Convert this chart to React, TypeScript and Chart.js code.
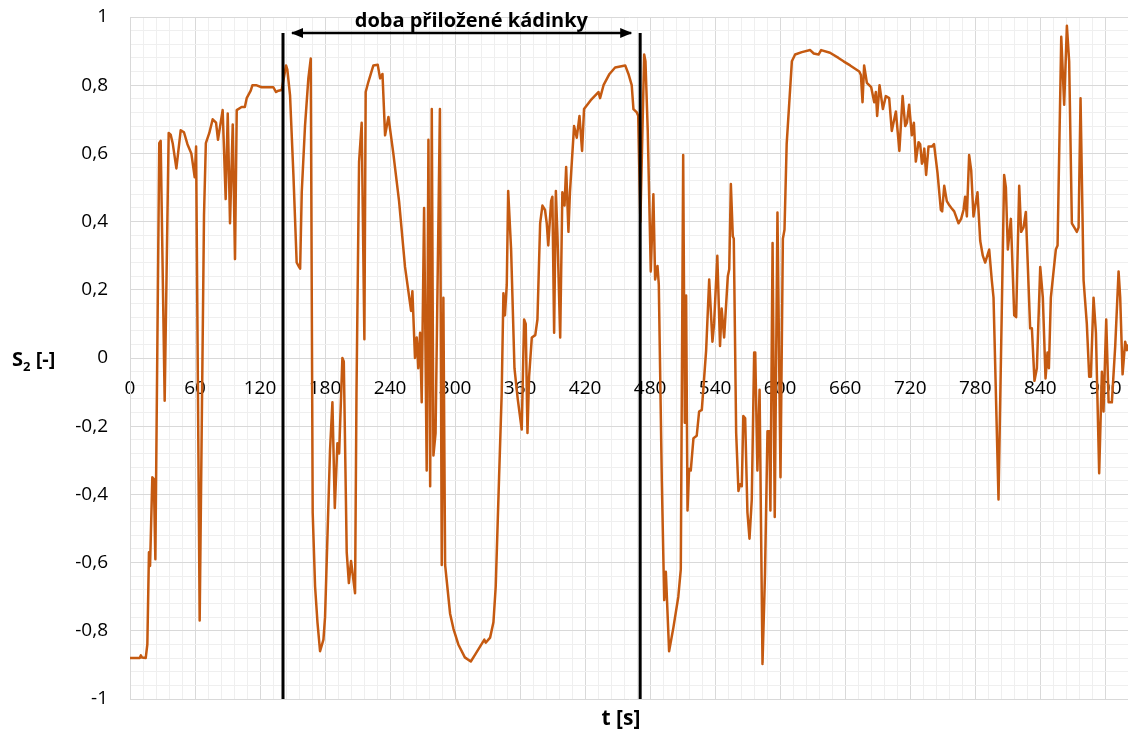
import React, { useEffect, useRef } from 'react';
import { Chart, registerables } from 'chart.js';

Chart.register(...registerables);

// time axis [s]
const times: number[] = [
  0, 5, 9, 10, 11, 14.5, 16, 17.5, 18.5, 20.6, 22, 23.4, 27, 28.3, 32, 35.7, 37.5, 39.4, 42.8, 46.8,
  49.8, 53, 56.6, 59.7, 61, 64.3, 68.3, 70, 73.2, 76.3, 79.4, 81.2, 85.5, 88.3, 90.2, 92.3, 94.8, 96.9, 98.5, 103,
  106, 107.7, 111.4, 113, 116.3, 121.5, 132.3, 134.8, 137, 140, 144, 145.2, 147.7, 150.8, 153.8, 156, 157, 158.5, 161.5, 164.6,
  166.8, 168.6, 170.8, 173, 175.4, 178.5, 180, 184.6, 186.8, 189, 191.4, 193, 196, 197.3, 200, 202, 204, 207.7, 209, 211.4,
  213.8, 216.3, 217.5, 220, 224.6, 228.6, 230.8, 233, 235.4, 238.5, 243, 248.3, 253.8, 259.4, 260.6, 263, 264.6, 266, 267.7, 269.2,
  271.4, 273.8, 275.4, 277, 278.5, 280, 282, 286, 287.7, 289.2, 290.8, 295.4, 298.5, 303, 309, 314.5, 318.5, 327, 328.3, 332.3,
  335.4, 337.5, 340.6, 343, 344.6, 346, 347.7, 349, 351.7, 354.8, 357.8, 361.5, 363.7, 365.2, 366.8, 368.3, 370.8, 374, 376, 378.5,
  380.6, 383, 384.6, 386, 388.6, 389.8, 391.4, 393, 394.5, 397, 399, 401, 402.5, 404.6, 406, 409.8, 412.3, 414.8, 417.2, 419,
  425.2, 432.3, 433.8, 437, 442.5, 447.7, 457, 460, 463, 464.6, 467.7, 469, 471, 474.5, 475.7, 477.8, 480.6, 483, 484.6, 486.8,
  488, 490.8, 493, 494.5, 497.5, 501.5, 506, 508.3, 510.5, 512, 513.2, 514.5, 516, 517.5, 520, 523, 525.2, 527.7, 531.7, 534.5,
  537.5, 539, 542, 544.5, 546, 548.3, 551.7, 553, 554.5, 556.3, 557.2, 559.4, 561.5, 563, 564.6, 566, 567.7, 569.8, 571.7, 573.8,
  576, 577, 579, 581, 583.7, 586, 588.3, 590, 591, 593, 595, 597.5, 600.3, 602.5, 604, 606, 608.3, 610.8, 613.8, 620,
  627.7, 631, 635.4, 637.8, 646, 653.8, 658.5, 664.6, 673, 674.5, 676, 677.5, 680, 684, 686.8, 688.3, 689.5, 691.7, 694.8, 697.5,
  700.6, 703, 706.8, 710, 713, 715.4, 717, 719, 721.5, 723.4, 725.2, 727.7, 729.2, 730.8, 731.7, 733, 734.7, 736.9, 740, 742,
  745.2, 748.3, 749.5, 751.4, 753.8, 756.3, 758, 760.6, 764.6, 767, 769.2, 770.7, 772.3, 774.4, 776.3, 778.4, 782.1, 784.6, 787, 789.2,
  792.9, 795.3, 796.9, 801.5, 806.7, 808.3, 810.1, 812.9, 816, 817.8, 820.6, 822.4, 824.6, 826.7, 830.7, 832.3, 834.7, 836.9, 840, 842.4,
  844.9, 846.7, 848, 849.8, 852.3, 854.4, 856, 859.4, 862.1, 864.6, 866.7, 869.2, 871.4, 873.8, 875.4, 877.2, 880, 883, 885.2, 886.7,
  889.2, 891.4, 894.4, 896.9, 898.4, 900.9, 903.1, 906.1, 909.2, 912.3, 913.8, 916, 918.4, 920, 921,
];

// S2 [-]
const values: number[] = [
  -0.88, -0.88, -0.88, -0.872, -0.878, -0.88, -0.84, -0.57, -0.61, -0.35, -0.355, -0.59, 0.63, 0.637, -0.125, 0.66, 0.655, 0.63, 0.556, 0.668,
  0.662, 0.627, 0.6, 0.53, 0.62, -0.77, 0.42, 0.63, 0.66, 0.7, 0.69, 0.64, 0.727, 0.466, 0.717, 0.395, 0.685, 0.29, 0.727, 0.736,
  0.736, 0.762, 0.784, 0.8, 0.8, 0.794, 0.794, 0.78, 0.784, 0.786, 0.858, 0.846, 0.77, 0.537, 0.28, 0.267, 0.262, 0.486, 0.68, 0.82,
  0.878, -0.454, -0.67, -0.775, -0.86, -0.826, -0.76, -0.27, -0.13, -0.44, -0.25, -0.28, 0.0, -0.01, -0.57, -0.66, -0.595, -0.69, -0.106, 0.575,
  0.69, 0.055, 0.78, 0.81, 0.858, 0.86, 0.82, 0.833, 0.653, 0.707, 0.6, 0.46, 0.267, 0.138, 0.196, 0.0, 0.06, -0.03, 0.074, -0.13,
  0.44, -0.33, 0.64, -0.376, 0.73, -0.286, -0.22, 0.73, -0.607, 0.177, -0.607, -0.75, -0.794, -0.84, -0.878, -0.89, -0.87, -0.826, -0.835, -0.82,
  -0.775, -0.67, -0.35, -0.106, 0.19, 0.125, 0.215, 0.49, 0.318, -0.03, -0.12, -0.21, 0.113, 0.1, -0.22, -0.055, 0.06, 0.067, 0.113, 0.395,
  0.447, 0.434, 0.395, 0.33, 0.46, 0.473, 0.074, 0.49, 0.357, 0.06, 0.486, 0.447, 0.56, 0.37, 0.486, 0.68, 0.646, 0.71, 0.607, 0.73,
  0.756, 0.78, 0.762, 0.8, 0.833, 0.852, 0.858, 0.833, 0.8, 0.73, 0.72, 0.71, 0.4, 0.89, 0.87, 0.666, 0.254, 0.48, 0.23, 0.27,
  0.215, -0.363, -0.71, -0.627, -0.86, -0.79, -0.7, -0.62, 0.595, -0.19, 0.183, -0.447, -0.325, -0.33, -0.235, -0.228, -0.157, -0.152, 0.023, 0.23,
  0.048, 0.1, 0.3, 0.035, 0.145, 0.06, 0.24, 0.26, 0.51, 0.357, 0.35, -0.22, -0.39, -0.37, -0.376, -0.17, -0.177, -0.453, -0.53, -0.415,
  0.016, 0.016, -0.33, -0.093, -0.897, -0.633, -0.215, -0.215, -0.447, 0.337, -0.466, 0.427, -0.35, 0.35, 0.376, 0.627, 0.743, 0.87, 0.89, 0.897,
  0.903, 0.893, 0.89, 0.903, 0.895, 0.88, 0.87, 0.858, 0.84, 0.83, 0.75, 0.858, 0.807, 0.794, 0.75, 0.78, 0.71, 0.8, 0.73, 0.768,
  0.762, 0.666, 0.723, 0.607, 0.768, 0.68, 0.69, 0.743, 0.653, 0.69, 0.576, 0.633, 0.627, 0.57, 0.576, 0.614, 0.537, 0.62, 0.62, 0.627,
  0.543, 0.434, 0.43, 0.505, 0.46, 0.447, 0.44, 0.43, 0.395, 0.408, 0.434, 0.473, 0.415, 0.595, 0.55, 0.415, 0.486, 0.344, 0.3, 0.28,
  0.318, 0.228, 0.177, -0.415, 0.537, 0.5, 0.318, 0.408, 0.125, 0.12, 0.505, 0.37, 0.383, 0.428, 0.087, 0.087, -0.067, -0.03, 0.267, 0.177,
  -0.06, 0.016, -0.03, 0.177, 0.254, 0.318, 0.33, 0.942, 0.743, 0.974, 0.87, 0.395, 0.383, 0.37, 0.383, 0.762, 0.228, 0.1, -0.055, -0.055,
  0.177, 0.074, -0.338, -0.04, -0.157, 0.113, -0.13, -0.13, 0.035, 0.254, 0.177, -0.048, 0.048, 0.023, 0.04,
];

// axis definitions
const xMin = 0;
const xMax = 921;
const xGridStep = 12;
const xLabelStep = 60;
const yMin = -1;
const yMax = 1;
const yGridStep = 0.04;
const yLabelStep = 0.2;

// beaker interval markers
const beakerStart = 141.2;
const beakerEnd = 470.8;
const markerTop = 0.953;
const arrowFrom = 149.5;
const arrowTo = 462.5;
const annotationText = 'doba přiložené kádinky';
const annotationT = 315;
const annotationV = 0.971;

const xTitle = 't [s]';
const yTitleMain = 'S';
const yTitleSub = '2';
const yTitleRest = ' [-]';

const LINE_COLOR = '#C55A11';
const MAJOR_GRID = '#d9d9d9';
const MINOR_GRID = '#efefef';
const FONT = '"Open Sans", "DejaVu Sans", sans-serif';

const isMultiple = (v: number, step: number) => Math.abs(v / step - Math.round(v / step)) < 1e-6;

const overlayPlugin = {
  id: 'overlayPlugin',
  afterDatasetsDraw(chart: any) {
    const { ctx, chartArea, scales } = chart;
    const x = scales.x;
    const y = scales.y;
    ctx.save();
    // arrowheads
    const ay = y.getPixelForValue(markerTop);
    const x1 = x.getPixelForValue(arrowFrom);
    const x2 = x.getPixelForValue(arrowTo);
    ctx.fillStyle = '#000';
    ctx.beginPath();
    ctx.moveTo(x1 - 1, ay);
    ctx.lineTo(x1 + 11, ay - 5);
    ctx.lineTo(x1 + 11, ay + 5);
    ctx.closePath();
    ctx.fill();
    ctx.beginPath();
    ctx.moveTo(x2 + 1, ay);
    ctx.lineTo(x2 - 11, ay - 5);
    ctx.lineTo(x2 - 11, ay + 5);
    ctx.closePath();
    ctx.fill();
    // annotation
    ctx.font = `bold 20px ${FONT}`;
    ctx.textAlign = 'center';
    ctx.textBaseline = 'alphabetic';
    ctx.fillText(annotationText, x.getPixelForValue(annotationT), y.getPixelForValue(annotationV));
    // x title
    ctx.font = `bold 21px ${FONT}`;
    ctx.fillText(xTitle, (chartArea.left + chartArea.right) / 2 - 8, chartArea.bottom + 26);
    // y title with subscript
    const base = y.getPixelForValue(0) + 8;
    ctx.textAlign = 'left';
    let px = 12;
    ctx.font = `bold 20px ${FONT}`;
    ctx.fillText(yTitleMain, px, base);
    px += ctx.measureText(yTitleMain).width;
    ctx.font = `bold 13px ${FONT}`;
    ctx.fillText(yTitleSub, px, base + 5);
    px += ctx.measureText(yTitleSub).width;
    ctx.font = `bold 20px ${FONT}`;
    ctx.fillText(yTitleRest, px, base);
    ctx.restore();
  },
};

export default function App() {
  const canvasRef = useRef<HTMLCanvasElement | null>(null);

  useEffect(() => {
    const canvas = canvasRef.current;
    if (!canvas) return;
    const series = times.map((t, i) => ({ x: t, y: values[i] }));
    const chart = new Chart(canvas, {
      type: 'line',
      data: {
        datasets: [
          {
            label: 'start',
            data: [{ x: beakerStart, y: yMin }, { x: beakerStart, y: markerTop }],
            borderColor: '#000',
            borderWidth: 3,
            pointRadius: 0,
            order: 0,
          },
          {
            label: 'end',
            data: [{ x: beakerEnd, y: yMin }, { x: beakerEnd, y: markerTop }],
            borderColor: '#000',
            borderWidth: 3,
            pointRadius: 0,
            order: 0,
          },
          {
            label: 'arrow',
            data: [{ x: arrowFrom, y: markerTop }, { x: arrowTo, y: markerTop }],
            borderColor: '#000',
            borderWidth: 2.5,
            pointRadius: 0,
            order: 0,
          },
          {
            label: 'S2',
            data: series,
            borderColor: LINE_COLOR,
            borderWidth: 2.5,
            pointRadius: 0,
            tension: 0,
            borderJoinStyle: 'round',
            order: 1,
          },
        ],
      },
      options: {
        responsive: false,
        animation: false,
        events: [],
        layout: { padding: { left: 0, right: 0, top: 17, bottom: 34 } },
        plugins: { legend: { display: false }, tooltip: { enabled: false } },
        scales: {
          x: {
            type: 'linear',
            min: xMin,
            max: xMax,
            position: { y: 0 },
            border: { color: MAJOR_GRID, width: 1 },
            grid: {
              drawTicks: true,
              tickLength: 19,
              tickColor: 'rgba(0,0,0,0)',
              lineWidth: 1,
              color: (c: any) => (isMultiple(c.tick.value, xLabelStep) ? MAJOR_GRID : MINOR_GRID),
            },
            ticks: {
              stepSize: xGridStep,
              autoSkip: false,
              maxRotation: 0,
              maxTicksLimit: 200,
              padding: 0,
              color: '#000',
              font: { family: FONT, size: 19 },
              callback: (v: any) => (isMultiple(Number(v), xLabelStep) ? String(Math.round(Number(v))) : ''),
            },
          },
          y: {
            type: 'linear',
            min: yMin,
            max: yMax,
            position: 'left',
            afterFit: (s: any) => {
              s.width = 130;
            },
            border: { color: MAJOR_GRID, width: 1 },
            grid: {
              drawTicks: true,
              tickLength: 20,
              tickColor: 'rgba(0,0,0,0)',
              lineWidth: 1,
              color: (c: any) => (isMultiple(c.tick.value, yLabelStep) ? MAJOR_GRID : MINOR_GRID),
            },
            ticks: {
              stepSize: yGridStep,
              autoSkip: false,
              maxTicksLimit: 200,
              padding: 2,
              color: '#000',
              font: { family: FONT, size: 19 },
              callback: (v: any) => {
                const n = Number(v);
                if (!isMultiple(n, yLabelStep)) return '';
                const r = Math.round(n * 10) / 10;
                return String(r).replace('.', ',');
              },
            },
          },
        },
      },
      plugins: [overlayPlugin],
    } as any);
    return () => chart.destroy();
  }, []);

  return (
    <div style={{ position: 'fixed', left: 0, top: 0, width: 1128, height: 733, background: '#fff' }}>
      <canvas ref={canvasRef} width={1128} height={733} style={{ display: 'block' }} />
    </div>
  );
}
